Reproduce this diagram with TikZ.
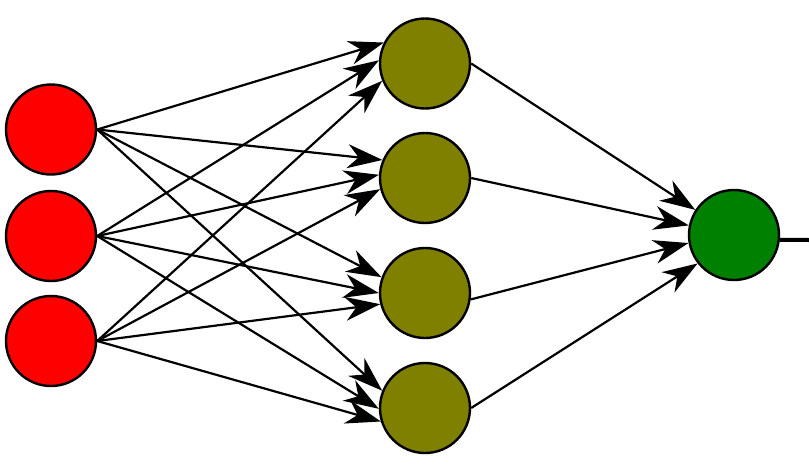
\documentclass[tikz,border=0pt]{standalone}
\usetikzlibrary{arrows.meta}
\definecolor{inred}{RGB}{255,0,0}
\definecolor{hidol}{RGB}{128,128,0}
\definecolor{outgr}{RGB}{0,128,0}
\begin{document}
\begin{tikzpicture}[x=1pt,y=-1pt,
  neuron/.style={circle,draw=black,line width=2.4pt,minimum size=90pt,inner sep=0pt},
  conn/.style={line width=2.2pt,-{Stealth[length=35pt,width=24pt,inset=11pt]}}]
\useasboundingbox (0,0) rectangle (809,469);
\node[neuron,fill=inred] (i1) at (51,129.5) {};
\node[neuron,fill=inred] (i2) at (51,236) {};
\node[neuron,fill=inred] (i3) at (51,341) {};
\node[neuron,fill=hidol] (h1) at (425,63.5) {};
\node[neuron,fill=hidol] (h2) at (425,178) {};
\node[neuron,fill=hidol] (h3) at (425,293) {};
\node[neuron,fill=hidol] (h4) at (425,408) {};
\node[neuron,fill=outgr] (o) at (734,235) {};
\coordinate (oend) at (809,240);
% input to hidden
\draw[conn] (i1.east) -- (h1.153);
\draw[conn] (i2.east) -- (h1.176);
\draw[conn] (i3.east) -- (h1.202);
\draw[conn] (i1.east) -- (h2.157);
\draw[conn] (i2.east) -- (h2.176);
\draw[conn] (i3.east) -- (h2.194);
\draw[conn] (i1.east) -- (h3.160);
\draw[conn] (i2.east) -- (h3.180);
\draw[conn] (i3.east) -- (h3.194);
\draw[conn] (i1.east) -- (h4.158);
\draw[conn] (i2.east) -- (h4.181);
\draw[conn] (i3.east) -- (h4.197);
% hidden to output
\draw[conn] (h1.east) -- (o.147);
\draw[conn] (h2.east) -- (o.168);
\draw[conn] (h3.-8) -- (o.190);
\draw[conn] (h4.east) -- (o.218);
\draw[line width=4pt] (o.-6) -- (oend);
\end{tikzpicture}
\end{document}
